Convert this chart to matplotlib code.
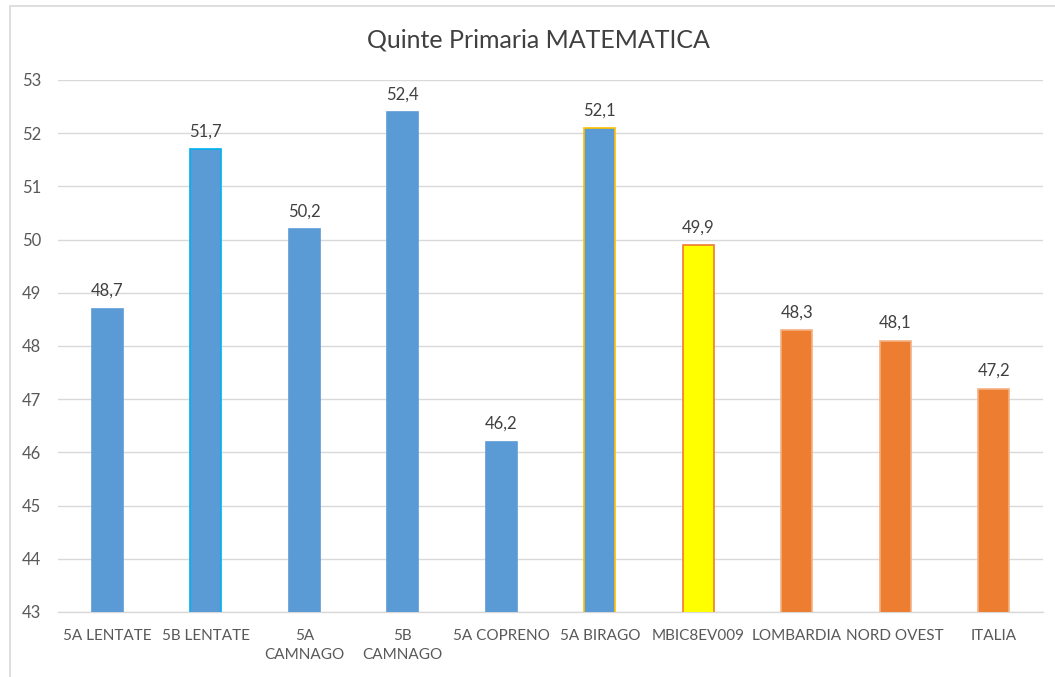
import matplotlib
matplotlib.use("Agg")
import matplotlib.pyplot as plt
from matplotlib.patches import Rectangle

categories = ["5A LENTATE", "5B LENTATE", "5A\nCAMNAGO", "5B\nCAMNAGO", "5A COPRENO",
              "5A BIRAGO", "MBIC8EV009", "LOMBARDIA", "NORD OVEST", "ITALIA"]
values = [48.7, 51.7, 50.2, 52.4, 46.2, 52.1, 49.9, 48.3, 48.1, 47.2]
fills = ["#5B9BD5", "#5B9BD5", "#5B9BD5", "#5B9BD5", "#5B9BD5",
         "#5B9BD5", "#FFFF00", "#ED7D31", "#ED7D31", "#ED7D31"]
edges = ["#5B9BD5", "#00B0F0", "#5B9BD5", "#5B9BD5", "#5B9BD5",
         "#FFC000", "#ED7D31", "#F4B183", "#F4B183", "#F4B183"]
title = "Quinte Primaria MATEMATICA"

plt.rcParams['font.family'] = ['Lato', 'DejaVu Sans']
fig = plt.figure(figsize=(10.55, 6.77), dpi=100)
fig.patches.append(Rectangle((10/1055, -0.1), 1.2, 1 - 6/677 + 0.1, transform=fig.transFigure,
                             fill=False, edgecolor="#D9D9D9", linewidth=1.2))
ax = fig.add_axes([58/1055, 1 - 612/677, (1043 - 58)/1055, (612 - 80)/677])

x = list(range(len(categories)))
ax.bar(x, values, width=0.31, color=fills, edgecolor=edges, linewidth=1.2, zorder=3)
for xi, v in zip(x, values):
    ax.annotate(f"{v:.1f}".replace(".", ","), (xi, v), xytext=(0, 7), textcoords="offset points",
                ha="center", va="bottom", fontsize=12, color="#404040")

ax.set_ylim(43, 53)
ax.set_xlim(-0.5, len(categories) - 0.5)
ax.set_yticks(range(43, 54))
ax.set_xticks(x)
ax.set_xticklabels(categories, fontsize=11, color="#595959", linespacing=1.45)
ax.tick_params(axis="y", labelsize=12, colors="#595959", length=0)
ax.tick_params(axis="x", length=0, pad=12)
ax.grid(axis="y", color="#D9D9D9", linewidth=1, zorder=0)
for s in ["top", "right", "left"]:
    ax.spines[s].set_visible(False)
ax.spines["bottom"].set_color("#D9D9D9")
ax.spines["bottom"].set_linewidth(1)
for lbl in ax.get_yticklabels():
    lbl.set_horizontalalignment("left")
ax.tick_params(axis="y", pad=26)

fig.text(538/1055, 1 - 40/677, title, ha="center", va="center", fontsize=18, color="#404040")
fig.savefig("out.png", dpi=100)
